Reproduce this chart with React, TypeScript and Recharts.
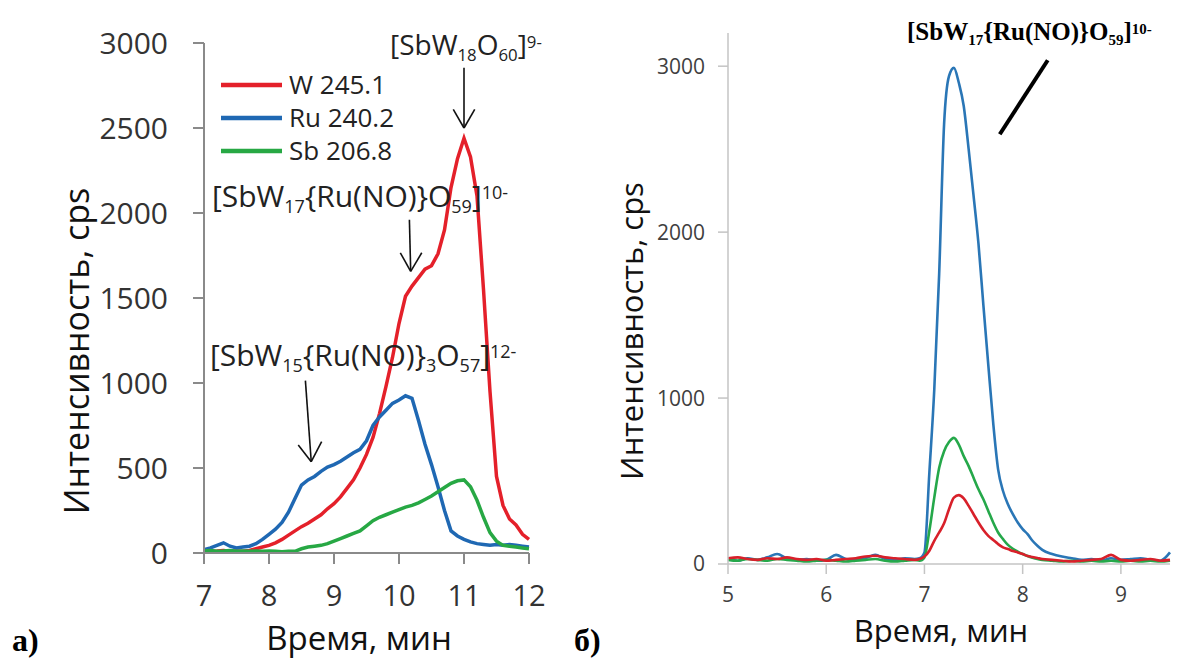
import React from 'react';
import { LineChart, Line, XAxis, YAxis, Legend, ReferenceLine } from 'recharts';

// ---------- Panel a ----------
const timeA = [
  7.0, 7.1, 7.2, 7.3, 7.4, 7.5, 7.6, 7.7, 7.8, 7.9,
  8.0, 8.1, 8.2, 8.3, 8.4, 8.5, 8.6, 8.7, 8.8, 8.9,
  9.0, 9.1, 9.2, 9.3, 9.4, 9.5, 9.6, 9.7, 9.8, 9.9,
  10.0, 10.1, 10.2, 10.3, 10.4, 10.5, 10.6, 10.7, 10.8, 10.9,
  11.0, 11.1, 11.2, 11.3, 11.4, 11.5, 11.6, 11.7, 11.8, 11.9, 12.0,
];
const wA = [
  10, 10, 12, 15, 10, 12, 10, 15, 25, 35,
  45, 60, 80, 105, 130, 155, 175, 200, 225, 260,
  290, 330, 380, 430, 500, 580, 680, 820, 980, 1150,
  1350, 1510, 1570, 1620, 1670, 1690, 1760, 1900, 2150, 2320,
  2440, 2330, 2100, 1550, 950, 450, 280, 200, 165, 110, 80,
];
const ruA = [
  20, 30, 45, 60, 40, 30, 35, 40, 55, 80,
  110, 140, 180, 240, 320, 400, 430, 450, 480, 505,
  520, 540, 565, 590, 610, 660, 750, 800, 840, 880,
  900, 925, 910, 780, 640, 520, 390, 250, 130, 100,
  80, 65, 55, 50, 45, 50, 45, 50, 45, 40, 35,
];
const sbA = [
  12, 15, 10, 12, 15, 10, 12, 10, 12, 10,
  12, 10, 8, 10, 10, 25, 35, 40, 45, 55,
  70, 85, 100, 115, 130, 160, 190, 210, 225, 240,
  255, 270, 280, 295, 315, 335, 360, 385, 410, 425,
  430, 390, 310, 210, 120, 70, 45, 40, 35, 30, 25,
];
const legendOrderA = ['W 245.1', 'Ru 240.2', 'Sb 206.8'];
const xTicksA = [7, 8, 9, 10, 11, 12];
const yTicksA = [0, 500, 1000, 1500, 2000, 2500, 3000];

// ---------- Panel b ----------
const timeB = [
  5.0, 5.1, 5.2, 5.3, 5.4, 5.5, 5.6, 5.7, 5.8, 5.9,
  6.0, 6.1, 6.2, 6.3, 6.4, 6.5, 6.6, 6.7, 6.8, 6.9,
  6.95, 7.0, 7.05, 7.1, 7.15, 7.2, 7.25, 7.3, 7.35, 7.4,
  7.45, 7.5, 7.55, 7.6, 7.65, 7.7, 7.75, 7.8, 7.85, 7.9,
  7.95, 8.0, 8.05, 8.1, 8.15, 8.2,
  8.3, 8.4, 8.5, 8.6, 8.7, 8.8, 8.9, 9.0, 9.1, 9.2, 9.3, 9.4, 9.5,
];
const ruB = [
  30, 20, 35, 25, 40, 60, 35, 25, 30, 20,
  25, 55, 30, 25, 35, 55, 30, 25, 35, 30,
  35, 70, 550, 1050, 1750, 2650, 2940, 2990, 2900, 2760,
  2500, 2220, 1930, 1560, 1200, 850, 570, 440, 360, 300,
  250, 210, 180, 140, 110, 85,
  60, 45, 35, 25, 30, 20, 35, 25, 30, 35, 25, 20, 70,
];
const sbB = [
  25, 20, 30, 25, 20, 30, 25, 20, 15, 20,
  25, 20, 15, 20, 25, 30, 20, 15, 20, 25,
  20, 40, 200, 400, 580, 680, 735, 760, 720, 650,
  590, 520, 450, 390, 320, 250, 190, 150, 115, 92,
  75, 60, 48, 38, 30, 25,
  20, 15, 20, 15, 20, 15, 20, 15, 20, 15, 20, 15, 20,
];
const wB = [
  35, 40, 30, 25, 35, 30, 40, 30, 25, 30,
  20, 25, 30, 35, 45, 50, 40, 35, 30, 25,
  30, 45, 80, 140, 190, 245, 330, 400, 415, 395,
  350, 300, 250, 205, 170, 145, 120, 100, 90, 78,
  70, 60, 48, 42, 36, 30,
  25, 20, 15, 20, 25, 30, 55, 25, 20, 25, 30, 20, 25,
];
const xTicksB = [5, 6, 7, 8, 9];
const yTicksB = [0, 1000, 2000, 3000];

const dataA = timeA.map((t, i) => ({ t, w: wA[i], ru: ruA[i], sb: sbA[i] }));
const dataB = timeB.map((t, i) => ({ t, w: wB[i], ru: ruB[i], sb: sbB[i] }));

const SANS = '"Open Sans", "DejaVu Sans", sans-serif';
const SERIF = '"Liberation Serif", "DejaVu Serif", serif';

type Part = [string, 'n' | 'sub' | 'sup'];

const Formula = ({ parts, style, bold }: { parts: Part[]; style: React.CSSProperties; bold?: boolean }) => (
  <div
    style={{
      position: 'absolute',
      whiteSpace: 'nowrap',
      lineHeight: 1,
      fontWeight: bold ? 700 : 400,
      ...style,
    }}
  >
    {parts.map(([s, k], i) =>
      k === 'n' ? (
        <span key={i}>{s}</span>
      ) : (
        <span
          key={i}
          style={{
            fontSize: '0.6em',
            position: 'relative',
            top: k === 'sub' ? '0.33em' : '-0.42em',
          }}
        >
          {s}
        </span>
      )
    )}
  </div>
);

const LegendContent = (props: any) => {
  const items = [...(props.payload || [])].sort(
    (a: any, b: any) => legendOrderA.indexOf(a.value) - legendOrderA.indexOf(b.value)
  );
  return (
    <div style={{ display: 'flex', flexDirection: 'column' }}>
      {items.map((e: any) => (
        <div key={e.value} style={{ display: 'flex', alignItems: 'center', height: 33 }}>
          <svg width={61} height={8}>
            <line x1={0} y1={4} x2={61} y2={4} stroke={e.color} strokeWidth={4.5} />
          </svg>
          <span style={{ marginLeft: 7, fontSize: 26, fontFamily: SANS, color: '#222', lineHeight: '33px' }}>
            {e.value}
          </span>
        </div>
      ))}
    </div>
  );
};

const RED_A = '#e4202a';
const BLUE_A = '#1f68b3';
const GREEN_A = '#27a844';
const RED_B = '#d8202a';
const BLUE_B = '#2a76b6';
const GREEN_B = '#25a84a';

const formula1: Part[] = [['[SbW', 'n'], ['18', 'sub'], ['O', 'n'], ['60', 'sub'], [']', 'n'], ['9-', 'sup']];
const formula2: Part[] = [['[SbW', 'n'], ['17', 'sub'], ['{Ru(NO)}O', 'n'], ['59', 'sub'], [']', 'n'], ['10-', 'sup']];
const formula3: Part[] = [
  ['[SbW', 'n'], ['15', 'sub'], ['{Ru(NO)}', 'n'], ['3', 'sub'], ['O', 'n'], ['57', 'sub'], [']', 'n'], ['12-', 'sup'],
];

const arrowStyle = { stroke: '#111', strokeWidth: 1.6 };

export default function App() {
  return (
    <div
      style={{
        position: 'absolute',
        left: 0,
        top: 0,
        width: 1181,
        height: 661,
        background: '#fff',
        overflow: 'hidden',
        fontFamily: SANS,
      }}
    >
      {/* Panel a */}
      <div style={{ position: 'absolute', left: 0, top: 0 }}>
        <LineChart width={560} height={661} data={dataA} margin={{ top: 43, right: 31, bottom: 0, left: 0 }}>
          <XAxis
            dataKey="t"
            type="number"
            domain={[7, 12]}
            ticks={xTicksA}
            interval={0}
            height={108}
            tickSize={11}
            tickMargin={21}
            axisLine={{ stroke: '#8a8a8a', strokeWidth: 2 }}
            tickLine={{ stroke: '#8a8a8a', strokeWidth: 2 }}
            tick={{ fill: '#333', fontSize: 29, fontFamily: SANS }}
            label={() => (
              <text x={359} y={650} textAnchor="middle" fontSize={33} fontFamily={SANS} fill="#111">
                Время, мин
              </text>
            )}
          />
          <YAxis
            type="number"
            domain={[0, 3000]}
            ticks={yTicksA}
            interval={0}
            width={204}
            tickSize={11}
            tickMargin={25}
            axisLine={{ stroke: '#8a8a8a', strokeWidth: 2 }}
            tickLine={{ stroke: '#8a8a8a', strokeWidth: 2 }}
            tick={{ fill: '#333', fontSize: 30, fontFamily: SANS }}
            label={() => (
              <text
                x={89}
                y={351}
                transform="rotate(-90 89 351)"
                textAnchor="middle"
                fontSize={34}
                fontFamily={SANS}
                fill="#111"
              >
                Интенсивность, cps
              </text>
            )}
          />
          <Legend
            layout="vertical"
            align="center"
            verticalAlign="middle"
            wrapperStyle={{ top: 68, left: 221, width: 220 }}
            content={LegendContent}
          />
          <Line type="linear" dataKey="w" name="W 245.1" stroke={RED_A} strokeWidth={3.5} dot={false} isAnimationActive={false} />
          <Line type="linear" dataKey="ru" name="Ru 240.2" stroke={BLUE_A} strokeWidth={3.5} dot={false} isAnimationActive={false} />
          <Line type="linear" dataKey="sb" name="Sb 206.8" stroke={GREEN_A} strokeWidth={3.5} dot={false} isAnimationActive={false} />

          {/* arrow to [SbW18O60] */}
          <ReferenceLine segment={[{ x: 11.0, y: 2855 }, { x: 11.0, y: 2500 }]} {...arrowStyle} />
          <ReferenceLine segment={[{ x: 10.835, y: 2610 }, { x: 11.0, y: 2500 }]} {...arrowStyle} />
          <ReferenceLine segment={[{ x: 11.165, y: 2610 }, { x: 11.0, y: 2500 }]} {...arrowStyle} />
          {/* arrow to [SbW17{Ru(NO)}O59] */}
          <ReferenceLine segment={[{ x: 10.16, y: 1960 }, { x: 10.18, y: 1657 }]} {...arrowStyle} />
          <ReferenceLine segment={[{ x: 10.02, y: 1766 }, { x: 10.18, y: 1657 }]} {...arrowStyle} />
          <ReferenceLine segment={[{ x: 10.35, y: 1766 }, { x: 10.18, y: 1657 }]} {...arrowStyle} />
          {/* arrow to [SbW15{Ru(NO)}3O57] */}
          <ReferenceLine segment={[{ x: 8.56, y: 1014 }, { x: 8.65, y: 537 }]} {...arrowStyle} />
          <ReferenceLine segment={[{ x: 8.45, y: 635 }, { x: 8.65, y: 537 }]} {...arrowStyle} />
          <ReferenceLine segment={[{ x: 8.81, y: 655 }, { x: 8.65, y: 537 }]} {...arrowStyle} />
        </LineChart>
      </div>

      <Formula parts={formula1} style={{ left: 390, top: 30, fontSize: 28, fontFamily: SANS, color: '#222' }} />
      <Formula parts={formula2} style={{ left: 212, top: 181, fontSize: 30, fontFamily: SANS, color: '#222' }} />
      <Formula parts={formula3} style={{ left: 210, top: 340, fontSize: 30, fontFamily: SANS, color: '#222' }} />

      {/* Panel b */}
      <div style={{ position: 'absolute', left: 590, top: 0 }}>
        <LineChart width={591} height={661} data={dataB} margin={{ top: 33, right: 11, bottom: 0, left: 0 }}>
          <XAxis
            dataKey="t"
            type="number"
            domain={[5, 9.5]}
            ticks={xTicksB}
            interval={0}
            height={97}
            tickSize={10}
            tickMargin={13}
            axisLine={{ stroke: '#c4c4c4', strokeWidth: 1.5 }}
            tickLine={{ stroke: '#c4c4c4', strokeWidth: 1.5 }}
            tick={{ fill: '#404040', fontSize: 21, fontFamily: SANS }}
            label={() => (
              <text x={351} y={642} textAnchor="middle" fontSize={31} fontFamily={SANS} fill="#111">
                Время, мин
              </text>
            )}
          />
          <YAxis
            type="number"
            domain={[0, 3200]}
            ticks={yTicksB}
            interval={0}
            width={138}
            tickSize={10}
            tickMargin={13}
            axisLine={{ stroke: '#c4c4c4', strokeWidth: 1.5 }}
            tickLine={{ stroke: '#c4c4c4', strokeWidth: 1.5 }}
            tick={{ fill: '#404040', fontSize: 21, fontFamily: SANS }}
            label={() => (
              <text
                x={53}
                y={331}
                transform="rotate(-90 53 331)"
                textAnchor="middle"
                fontSize={31}
                fontFamily={SANS}
                fill="#111"
              >
                Интенсивность, cps
              </text>
            )}
          />
          <Line type="monotone" dataKey="ru" name="Ru" stroke={BLUE_B} strokeWidth={2.6} dot={false} isAnimationActive={false} />
          <Line type="monotone" dataKey="sb" name="Sb" stroke={GREEN_B} strokeWidth={2.6} dot={false} isAnimationActive={false} />
          <Line type="monotone" dataKey="w" name="W" stroke={RED_B} strokeWidth={2.6} dot={false} isAnimationActive={false} />
          <ReferenceLine segment={[{ x: 8.255, y: 3036 }, { x: 7.767, y: 2590 }]} stroke="#000" strokeWidth={4} />
        </LineChart>
      </div>

      <Formula
        parts={formula2}
        bold
        style={{ left: 907, top: 19, fontSize: 25, fontFamily: SERIF, color: '#000' }}
      />

      <div
        style={{
          position: 'absolute',
          left: 12,
          top: 624,
          fontFamily: SERIF,
          fontWeight: 700,
          fontSize: 32,
          lineHeight: 1,
          color: '#000',
        }}
      >
        а)
      </div>
      <div
        style={{
          position: 'absolute',
          left: 574,
          top: 624,
          fontFamily: SERIF,
          fontWeight: 700,
          fontSize: 32,
          lineHeight: 1,
          color: '#000',
        }}
      >
        б)
      </div>
    </div>
  );
}
